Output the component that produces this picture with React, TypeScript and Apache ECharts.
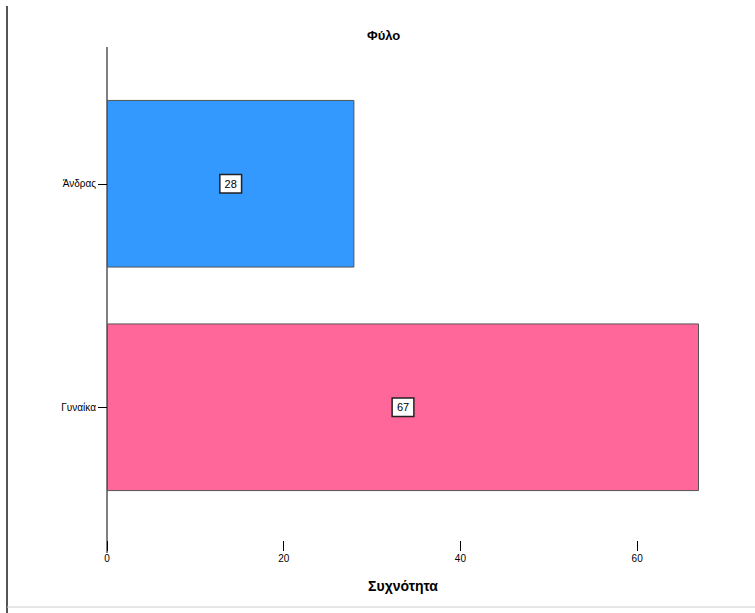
import React, { useEffect, useRef } from "react";
import * as echarts from "echarts";

const categories = ["Άνδρας", "Γυναίκα"];
const values = [28, 67];
const barColors = ["#3399FF", "#FF6699"];
const xTicks = [0, 20, 40, 60];
const titleText = "Φύλο";
const xName = "Συχνότητα";

export default function App() {
  const ref = useRef<HTMLDivElement>(null);
  useEffect(() => {
    if (!ref.current) return;
    const chart = echarts.init(ref.current, null, { renderer: "svg" });
    const font = "'Liberation Sans', Arial, sans-serif";
    chart.setOption({
      animation: false,
      backgroundColor: "#ffffff",
      textStyle: { fontFamily: font },
      title: {
        text: titleText,
        left: 362,
        top: 24,
        textStyle: { fontSize: 13, fontWeight: "bold", color: "#000", fontFamily: font },
      },
      grid: { left: 107, right: 56, top: 72, height: 447 },
      xAxis: {
        type: "value",
        min: 0,
        max: 67,
        interval: 20,
        offset: 22,
        axisLine: { show: false },
        axisTick: { show: true, length: 10, lineStyle: { color: "#000" } },
        axisLabel: {
          fontSize: 10,
          color: "#000",
          margin: 12,
          showMaxLabel: false,
          formatter: (v: number) => (xTicks.includes(v) ? String(v) : ""),
        },
        splitLine: { show: false },
        name: xName,
        nameLocation: "middle",
        nameGap: 38,
        nameTextStyle: { fontSize: 14, fontWeight: "bold", color: "#000", fontFamily: font },
      },
      yAxis: {
        type: "category",
        data: categories,
        inverse: true,
        axisLine: { show: false },
        axisTick: { show: true, alignWithLabel: true, length: 9, lineStyle: { color: "#000" } },
        axisLabel: { fontSize: 10, color: "#000", margin: 11 },
      },
      series: [
        {
          type: "bar",
          barCategoryGap: "25%",
          data: values.map((v, i) => ({
            value: v,
            itemStyle: { color: barColors[i], borderColor: "#555", borderWidth: 1 },
          })),
          label: {
            show: true,
            position: "inside",
            color: "#000",
            fontSize: 11,
            backgroundColor: "#fff",
            borderColor: "#222",
            borderWidth: 1.5,
            padding: [3, 4],
          },
        },
      ],
      graphic: [
        { type: "line", shape: { x1: 107, y1: 47, x2: 107, y2: 553 }, style: { stroke: "#000", lineWidth: 1 } },
        { type: "line", shape: { x1: 7, y1: 6, x2: 7, y2: 613 }, style: { stroke: "#555", lineWidth: 2 } },
        { type: "line", shape: { x1: 7, y1: 607, x2: 755, y2: 607 }, style: { stroke: "#ccc", lineWidth: 1 } },
      ],
    });
    return () => chart.dispose();
  }, []);
  return (
    <div
      ref={ref}
      style={{ position: "absolute", left: 0, top: 0, width: 755, height: 613 }}
    />
  );
}
